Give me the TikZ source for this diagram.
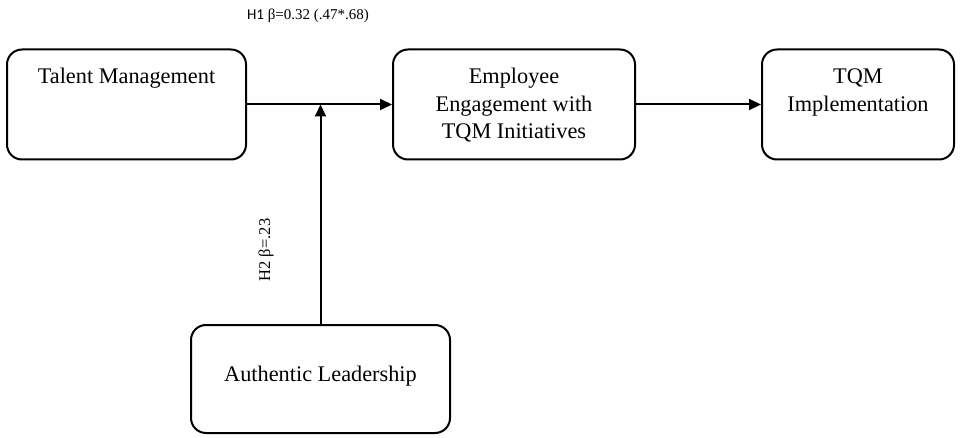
\documentclass[tikz,border=0pt]{standalone}
\usepackage{fontspec}
\setmainfont{Liberation Serif}
\newfontfamily\labelsans{Carlito}
\usetikzlibrary{arrows.meta}
\begin{document}
\begin{tikzpicture}[x=1pt,y=-1pt,
  box/.style={draw=black, line width=2pt, rounded corners=15pt, fill=white, inner sep=0pt},
  boxtext/.style={anchor=base, align=center, inner sep=0pt, font=\fontsize{22.3}{27.5}\selectfont},
  conn/.style={line width=2pt, -{Triangle[length=12pt,width=11pt]}},
  coeff/.style={inner sep=0pt, font=\fontsize{15}{18}\selectfont}]
  \useasboundingbox (0,0) rectangle (960,438);

  % construct boxes
  \node[box, minimum width=239pt, minimum height=110pt] (tm)  at (126.5,104.5) {};
  \node[box, minimum width=242pt, minimum height=110pt] (ee)  at (514,104.5) {};
  \node[box, minimum width=192pt, minimum height=110pt] (tqm) at (858,104.5) {};
  \node[box, minimum width=259pt, minimum height=108pt] (al)  at (320.5,379) {};

  % construct names (base anchor sits on the last line)
  \node[boxtext] (tmtext)  at (126.5,84) {Talent Management};
  \node[boxtext] (eetext)  at (514,139) {Employee\\Engagement with\\TQM Initiatives};
  \node[boxtext] (tqmtext) at (858,111.5) {TQM\\Implementation};
  \node[boxtext] (altext)  at (320.5,381) {Authentic Leadership};

  % paths
  \draw[conn] (tm.east) -- (ee.west);
  \draw[conn] (ee.east) -- (tqm.west);
  \coordinate (mod) at (al.north |- tm.east);
  \draw[conn] (al.north) -- (mod);

  % path coefficients
  \node[coeff, anchor=base] (h1) at (308,20) {{\labelsans H1} β=0.32 (.47*.68)};
  \node[coeff, rotate=90, anchor=base, font=\fontsize{16.5}{19}\selectfont] (h2) at (270,250) {H2 β=.23};
\end{tikzpicture}
\end{document}
